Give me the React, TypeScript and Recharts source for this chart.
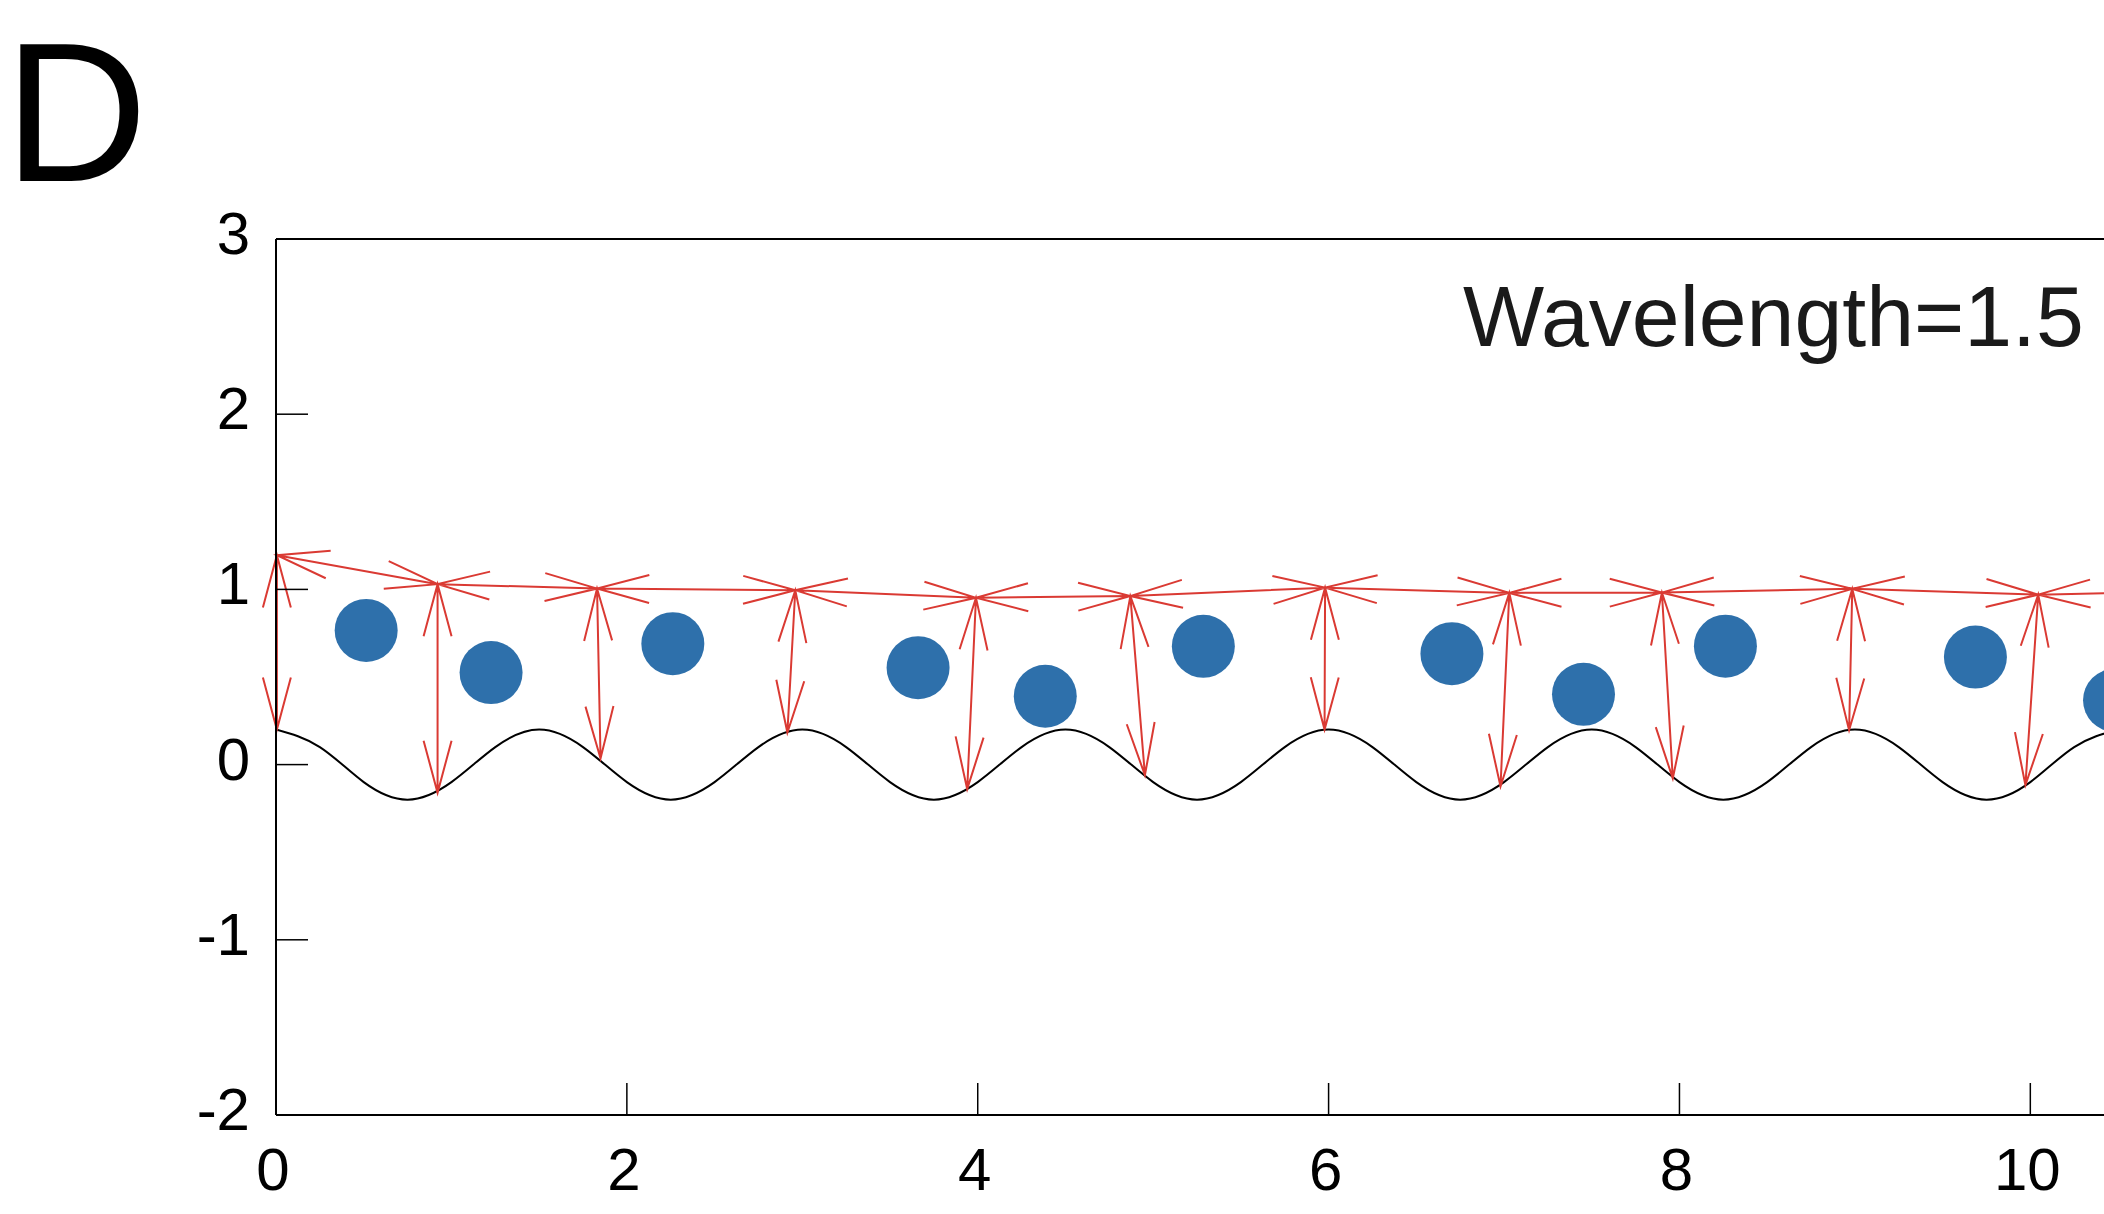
import React from 'react';
import { ComposedChart, Line, Scatter, XAxis, YAxis, ReferenceLine } from 'recharts';

const xTicks = [0, 2, 4, 6, 8, 10];
const yTicks = [-2, -1, 0, 1, 2, 3];

// black ground profile, read every 0.25
const groundX = [
  0, 0.25, 0.5, 0.75, 1, 1.25, 1.5, 1.75, 2, 2.25, 2.5, 2.75, 3, 3.25, 3.5, 3.75, 4, 4.25, 4.5, 4.75, 5, 5.25,
  5.5, 5.75, 6, 6.25, 6.5, 6.75, 7, 7.25, 7.5, 7.75, 8, 8.25, 8.5, 8.75, 9, 9.25, 9.5, 9.75, 10, 10.25, 10.5,
];
const groundY = [
  0.2, 0.1, -0.1, -0.2, -0.1, 0.1, 0.2, 0.1, -0.1, -0.2, -0.1, 0.1, 0.2, 0.1, -0.1, -0.2, -0.1, 0.1, 0.2, 0.1, -0.1, -0.2,
  -0.1, 0.1, 0.2, 0.1, -0.1, -0.2, -0.1, 0.1, 0.2, 0.1, -0.1, -0.2, -0.1, 0.1, 0.2, 0.1, -0.1, -0.2, -0.1, 0.1, 0.2,
];

// top nodes of the red spring network
const nodeX = [0.005, 0.921, 1.83, 2.96, 3.99, 4.87, 5.98, 7.03, 7.9, 8.985, 10.045, 11.0];
const nodeY = [1.195, 1.03, 1.005, 0.995, 0.952, 0.962, 1.01, 0.98, 0.982, 1.003, 0.97, 0.99];

// where each vertical spring meets the ground
const footX = [0.005, 0.921, 1.85, 2.915, 3.94, 4.953, 5.977, 6.98, 7.962, 8.967, 9.972];
const footY = [0.2, -0.161, 0.035, 0.183, -0.14, -0.06, 0.2, -0.125, -0.079, 0.196, -0.117];

// blue particles
const ballX = [0.514, 1.226, 2.262, 3.66, 4.385, 5.286, 6.703, 7.453, 8.262, 9.687, 10.48];
const ballY = [0.766, 0.525, 0.69, 0.553, 0.39, 0.675, 0.633, 0.401, 0.676, 0.614, 0.367];

const ground = groundX.map((x, i) => ({ x, y: groundY[i] }));
const balls = ballX.map((x, i) => ({ x, y: ballY[i] }));

const RED = '#DA3A33';
const BLUE = '#2E70AB';
const FONT = '"Liberation Sans", Arial, Helvetica, sans-serif';
const HEAD = 54;
const SPREAD = (15 * Math.PI) / 180;

function arms(px: number, py: number, dx: number, dy: number) {
  const c = Math.cos(SPREAD);
  const s = Math.sin(SPREAD);
  const ax = dx * c - dy * s;
  const ay = dx * s + dy * c;
  const bx = dx * c + dy * s;
  const by = -dx * s + dy * c;
  return `M${px + ax * HEAD},${py + ay * HEAD}L${px},${py}L${px + bx * HEAD},${py + by * HEAD}`;
}

// double headed arrow between the two segment ends
const springShape = (props: any) => {
  const { x1, y1, x2, y2 } = props;
  const len = Math.hypot(x2 - x1, y2 - y1) || 1;
  const ux = (x2 - x1) / len;
  const uy = (y2 - y1) / len;
  const d = `M${x1},${y1}L${x2},${y2}` + arms(x1, y1, ux, uy) + arms(x2, y2, -ux, -uy);
  return <path d={d} fill="none" stroke={RED} strokeWidth={2} />;
};

const XTick = (props: any) => {
  const { x, y, payload } = props;
  return (
    <g>
      <line x1={x} y1={y} x2={x} y2={y - 32} stroke="#000" strokeWidth={1.5} />
      <text x={x - 3} y={y + 75} textAnchor="middle" fontSize={60} fontFamily={FONT} fill="#000">
        {payload.value}
      </text>
    </g>
  );
};

const YTick = (props: any) => {
  const { x, y, payload } = props;
  return (
    <g>
      <line x1={x} y1={y} x2={x + 32} y2={y} stroke="#000" strokeWidth={1.5} />
      <text x={x - 26} y={y + 15} textAnchor="end" fontSize={60} fontFamily={FONT} fill="#000">
        {payload.value}
      </text>
    </g>
  );
};

export default function App() {
  return (
    <div style={{ position: 'relative', width: 2104, height: 1214, background: '#fff' }}>
      <style>{'body{margin:0;overflow:hidden;}'}</style>
      <ComposedChart width={2104} height={1214} margin={{ top: 239, right: 0, left: 196, bottom: 39 }}>
        <XAxis
          type="number"
          dataKey="x"
          domain={[0, 10.42]}
          allowDataOverflow
          ticks={xTicks}
          tickLine={false}
          tickSize={0}
          tickMargin={0}
          height={60}
          axisLine={{ stroke: '#000', strokeWidth: 2 }}
          tick={XTick}
        />
        <YAxis
          type="number"
          dataKey="y"
          domain={[-2, 3]}
          allowDataOverflow
          ticks={yTicks}
          tickLine={false}
          tickSize={0}
          tickMargin={0}
          width={80}
          axisLine={{ stroke: '#000', strokeWidth: 2 }}
          tick={YTick}
        />
        <ReferenceLine y={3} stroke="#000" strokeWidth={2} />
        <Line
          data={ground}
          dataKey="y"
          type="natural"
          stroke="#000"
          strokeWidth={2}
          dot={false}
          activeDot={false}
          isAnimationActive={false}
        />
        {nodeX.slice(0, -1).map((x, i) => (
          <ReferenceLine
            key={`h${i}`}
            segment={[
              { x, y: nodeY[i] },
              { x: nodeX[i + 1], y: nodeY[i + 1] },
            ]}
            ifOverflow="visible"
            shape={springShape}
          />
        ))}
        {footX.map((x, i) => (
          <ReferenceLine
            key={`v${i}`}
            segment={[
              { x: nodeX[i], y: nodeY[i] },
              { x, y: footY[i] },
            ]}
            ifOverflow="visible"
            shape={springShape}
          />
        ))}
        <Scatter
          data={balls}
          dataKey="y"
          isAnimationActive={false}
          shape={(p: any) => <circle cx={p.cx} cy={p.cy} r={31.5} fill={BLUE} />}
        />
      </ComposedChart>
      <svg
        width={2104}
        height={1214}
        style={{ position: 'absolute', left: 0, top: 0, pointerEvents: 'none' }}
      >
        <text x={4} y={181} fontSize={199} fontFamily={FONT} fill="#000">
          D
        </text>
        <text x={1463} y={346} fontSize={86} fontFamily={FONT} fill="#1a1a1a">
          Wavelength=1.5
        </text>
      </svg>
    </div>
  );
}
